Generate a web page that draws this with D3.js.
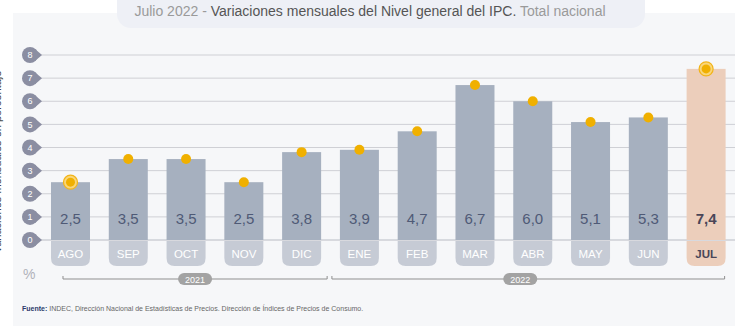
<!DOCTYPE html>
<html>
<head>
<meta charset="utf-8">
<script src="https://cdn.jsdelivr.net/npm/d3@7"></script>
<style>
  body { margin: 0; background: #fff; font-family: "Liberation Sans", Arial, sans-serif; }
  svg { display: block; }
</style>
</head>
<body>
<div class="chart"></div>
<script>
const width = 735
const height = 326

const months = ['AGO','SEP','OCT','NOV','DIC','ENE','FEB','MAR','ABR','MAY','JUN','JUL']
const values = [2.5, 3.5, 3.5, 2.5, 3.8, 3.9, 4.7, 6.7, 6.0, 5.1, 5.3, 7.4]
const ringed = ['AGO','JUL']
const yTicks = [0,1,2,3,4,5,6,7,8]
const years = [
  {label: '2021', from: 'AGO', to: 'DIC'},
  {label: '2022', from: 'ENE', to: 'JUL'}
]

const fmt = v => d3.format('.1f')(v).replace('.', ',')

const svg = d3.select('.chart')
  .append('svg')
    .attr('width', width)
    .attr('height', height)

// panel
svg.append('rect')
  .attr('x', 13).attr('y', 13)
  .attr('width', width - 13).attr('height', height - 13)
  .attr('fill', '#f6f7f9')

// vertical label, mostly off the left edge like in the source image
svg.append('text')
  .attr('transform', 'translate(0.5,162) rotate(-90)')
  .attr('text-anchor', 'middle')
  .attr('font-size', 11)
  .attr('fill', '#444')
  .text('Variaciones mensuales en porcentaje')

// title pill
svg.append('rect')
  .attr('x', 117).attr('y', -14)
  .attr('width', 528).attr('height', 42)
  .attr('rx', 14)
  .attr('fill', '#eef0f6')

const title = svg.append('text')
  .attr('x', 370).attr('y', 16)
  .attr('text-anchor', 'middle')
  .attr('font-size', 14)
  .attr('fill', '#9a9a9a')
title.append('tspan').text('Julio 2022 -  ')
title.append('tspan').attr('fill', '#555').text('Variaciones mensuales del Nivel general del IPC.')
title.append('tspan').text(' Total nacional')

const x = d3.scaleBand()
  .domain(months)
  .range([41.6, 735])
  .paddingInner(0.325)
  .paddingOuter(0.1625)

const y = d3.scaleLinear()
  .domain([0, 8])
  .range([240, 55])

// grid
svg.append('g')
  .selectAll('line')
  .data(yTicks)
  .join('line')
    .attr('x1', 36).attr('x2', width)
    .attr('y1', d => y(d)).attr('y2', d => y(d))
    .attr('stroke', d => d === 0 ? '#b9bcc4' : '#cfd0d5')
    .attr('stroke-width', 1)

// y tick badges
const tickG = svg.append('g')
  .selectAll('g')
  .data(yTicks)
  .join('g')
    .attr('transform', d => `translate(30,${y(d)})`)
tickG.append('circle')
  .attr('r', 8)
  .attr('fill', '#8b8ea2')
tickG.append('path')
  .attr('d', 'M5,-6 L12,0 L5,6 Z')
  .attr('fill', '#8b8ea2')
tickG.append('text')
  .attr('text-anchor', 'middle')
  .attr('dy', '0.35em')
  .attr('font-size', 9)
  .attr('fill', '#fff')
  .text(d => d)

// bars
svg.append('g')
  .selectAll('rect')
  .data(months)
  .join('rect')
    .attr('x', d => x(d))
    .attr('y', (d, i) => y(values[i]))
    .attr('width', x.bandwidth())
    .attr('height', (d, i) => y(0) - y(values[i]))
    .attr('fill', d => d === 'JUL' ? '#eccebb' : '#a6b0bf')

// month pills with rounded bottom
const r = 8
const ph = 25
svg.append('g')
  .selectAll('path')
  .data(months)
  .join('path')
    .attr('d', d => {
      const x0 = x(d), w = x.bandwidth(), y0 = y(0) + 1
      return `M${x0},${y0} H${x0 + w} V${y0 + ph - r} Q${x0 + w},${y0 + ph} ${x0 + w - r},${y0 + ph} H${x0 + r} Q${x0},${y0 + ph} ${x0},${y0 + ph - r} Z`
    })
    .attr('fill', d => d === 'JUL' ? '#eccebb' : '#c6cbd5')

svg.append('g')
  .selectAll('text')
  .data(months)
  .join('text')
    .attr('x', d => x(d) + x.bandwidth() / 2)
    .attr('y', y(0) + 18)
    .attr('text-anchor', 'middle')
    .attr('font-size', 11.5)
    .attr('font-weight', d => d === 'JUL' ? 'bold' : 'normal')
    .attr('fill', d => d === 'JUL' ? '#4a4658' : '#fff')
    .text(d => d)

// value labels
svg.append('g')
  .selectAll('text')
  .data(months)
  .join('text')
    .attr('x', d => x(d) + x.bandwidth() / 2)
    .attr('y', y(0) - 16)
    .attr('text-anchor', 'middle')
    .attr('font-size', 15)
    .attr('font-weight', d => d === 'JUL' ? 'bold' : 'normal')
    .attr('fill', d => d === 'JUL' ? '#4a4658' : '#4f5a76')
    .text((d, i) => fmt(values[i]))

// dots
const dots = svg.append('g')
  .selectAll('g')
  .data(months)
  .join('g')
    .attr('transform', (d, i) => `translate(${x(d) + x.bandwidth() / 2},${y(values[i])})`)
dots.filter(d => ringed.includes(d))
  .append('circle')
    .attr('r', 7)
    .attr('fill', '#f9d67a')
    .attr('stroke', '#f2b418')
    .attr('stroke-width', 1.2)
dots.append('circle')
  .attr('r', d => ringed.includes(d) ? 4.5 : 5)
  .attr('fill', '#f0b000')

// percent sign
svg.append('text')
  .attr('x', 23).attr('y', 279)
  .attr('font-size', 14)
  .attr('fill', '#b0b2ba')
  .text('%')

// year brackets
const yb = 279
years.forEach((yr, k) => {
  const x1 = k === 0 ? x(yr.from) + 12 : x(yr.from) - 8
  const x2 = k === 0 ? x(yr.to) + x.bandwidth() + 6 : x(yr.to) + x.bandwidth() - 1
  const g = svg.append('g')
  g.append('path')
    .attr('d', `M${x1},${yb - 3} V${yb} H${x2} V${yb - 3}`)
    .attr('fill', 'none')
    .attr('stroke', '#8f8f8f')
    .attr('stroke-width', 1)
  const cx = k === 0 ? (x1 + x2) / 2 : (x1 + x2) / 2 - 8
  g.append('rect')
    .attr('x', cx - 17).attr('y', yb - 6)
    .attr('width', 34).attr('height', 12)
    .attr('rx', 6)
    .attr('fill', '#a3a3a3')
  g.append('text')
    .attr('x', cx).attr('y', yb + 3.5)
    .attr('text-anchor', 'middle')
    .attr('font-size', 9)
    .attr('fill', '#fff')
    .text(yr.label)
})

// source
const src = svg.append('text')
  .attr('x', 22).attr('y', 311)
  .attr('font-size', 7)
  .attr('fill', '#666')
src.append('tspan').attr('font-weight', 'bold').attr('fill', '#2b3a6b').text('Fuente:')
src.append('tspan').text(' INDEC, Dirección Nacional de Estadísticas de Precios. Dirección de Índices de Precios de Consumo.')
</script>
</body>
</html>
